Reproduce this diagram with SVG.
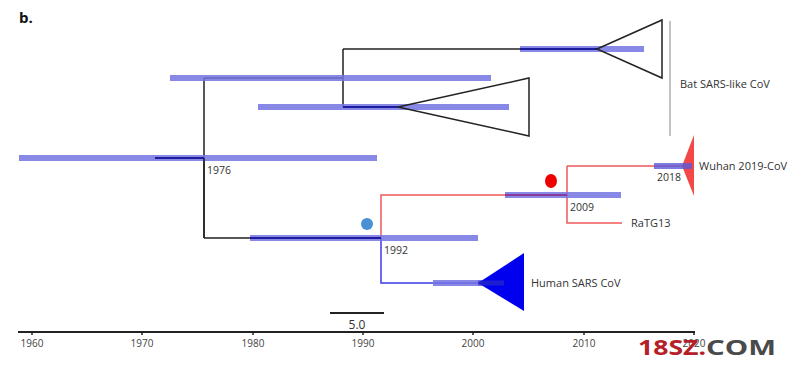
<svg xmlns="http://www.w3.org/2000/svg" width="800" height="368" viewBox="0 0 800 368">
<style>
text{font-family:"Open Sans","Liberation Sans",sans-serif;fill:#333}
.bar{stroke:#7373e3;stroke-width:6;stroke-opacity:0.85;fill:none}
.blk{stroke:#222;stroke-width:1.5;fill:none}
.dkb{stroke:#1c1c9c;stroke-width:2;fill:none}
.red{stroke:#ee5a5a;stroke-width:1.5;fill:none}
.blu{stroke:#3a3ae8;stroke-width:1.5;fill:none}
.lbl{font-size:11px}
.yr{font-size:10.5px}
.ax{font-size:10px;fill:#444}
</style>
<rect width="800" height="368" fill="#fff"/>
<text x="19" y="23" style="font-size:15px;font-weight:bold;fill:#111">b.</text>
<g id="connectors">
<path class="blk" d="M204 78V238M204 78H343M343 49V107M343 49H597M343 107H398M204 238H381"/>
<path class="red" d="M381 238V195H567M567 166V223H622M567 166H683"/>
<path class="blu" d="M381 238V283H480"/>
</g>
<g id="bars">
<line class="bar" x1="19" y1="158" x2="377" y2="158"/>
<line class="bar" x1="170" y1="78" x2="491" y2="78"/>
<line class="bar" x1="258" y1="107" x2="509" y2="107"/>
<line class="bar" x1="520" y1="49" x2="644" y2="49"/>
<line class="bar" x1="250" y1="238" x2="478" y2="238"/>
<line class="bar" x1="505" y1="195" x2="621" y2="195"/>
<line class="bar" x1="433" y1="283" x2="504" y2="283"/>
</g>
<g id="root-1976">
<line class="dkb" x1="155" y1="158" x2="204" y2="158"/>
<line class="blk" x1="204" y1="158" x2="204" y2="238"/>
<text class="yr" x="207" y="174">1976</text>
</g>
<g id="bat-clade-1">
<line class="dkb" x1="520" y1="49" x2="597" y2="49"/>
<polygon points="597,49 662,20 662,78" fill="none" stroke="#222" stroke-width="1.5"/>
</g>
<g id="bat-clade-2">
<line class="dkb" x1="343" y1="107" x2="398" y2="107"/>
<polygon points="398,107 529,78 529,136" fill="none" stroke="#222" stroke-width="1.5"/>
</g>
<g id="bat-label">
<line x1="670" y1="21" x2="670" y2="136" stroke="#888" stroke-width="1"/>
<text class="lbl" x="680" y="88">Bat SARS-like CoV</text>
</g>
<g id="node-1992">
<line class="dkb" x1="250" y1="238" x2="381" y2="238"/>
<circle cx="367" cy="224" r="6" fill="#4a90d4"/>
<text class="yr" x="384" y="254">1992</text>
</g>
<g id="node-2009">
<line x1="505" y1="195" x2="567" y2="195" stroke="#8a3a9a" stroke-width="2"/>
<ellipse cx="551" cy="181" rx="6" ry="7" fill="#ee0000"/>
<text class="yr" x="570" y="211">2009</text>
</g>
<g id="ratg13">
<text class="lbl" x="631" y="227">RaTG13</text>
</g>
<g id="wuhan">
<polygon points="682,166 694,135 694,196" fill="#f44848"/>
<line x1="654" y1="166" x2="692" y2="166" stroke="#5a5ad8" stroke-width="6" stroke-opacity="0.8"/>
<text class="yr" x="657" y="181">2018</text>
<text class="lbl" x="699" y="170">Wuhan 2019-CoV</text>
</g>
<g id="human-sars">
<polygon points="478,283 524,253 524,311" fill="#0000ee"/>
<line x1="478" y1="283" x2="504" y2="283" stroke="#3030c0" stroke-width="5" stroke-opacity="0.6"/>
<text class="lbl" x="531" y="287">Human SARS CoV</text>
</g>
<g id="scale-bar">
<line x1="330" y1="313" x2="384" y2="313" stroke="#222" stroke-width="2"/>
<text x="357" y="329" text-anchor="middle" style="font-size:12px">5.0</text>
</g>
<g id="axis">
<line x1="18" y1="332" x2="695" y2="332" stroke="#222" stroke-width="2"/>
<path d="M32 332v3M142 332v3M253 332v3M363 332v3M473 332v3M584 332v3M694 332v3" stroke="#222" stroke-width="1.5"/>
<g class="ax" text-anchor="middle">
<text class="ax" x="32" y="347">1960</text>
<text class="ax" x="142" y="347">1970</text>
<text class="ax" x="253" y="347">1980</text>
<text class="ax" x="363" y="347">1990</text>
<text class="ax" x="473" y="347">2000</text>
<text class="ax" x="584" y="347">2010</text>
<text class="ax" x="694" y="347">2020</text>
</g>
</g>
<g id="watermark" style="font-family:'DejaVu Sans','Liberation Sans',sans-serif;font-weight:bold">
<text x="638" y="355" style="font-size:21px;fill:#b52028" textLength="68" lengthAdjust="spacingAndGlyphs">18SZ.</text>
<text x="706" y="355" style="font-size:21px;fill:#4a4a4a" textLength="70" lengthAdjust="spacingAndGlyphs">COM</text>
</g>
</svg>
